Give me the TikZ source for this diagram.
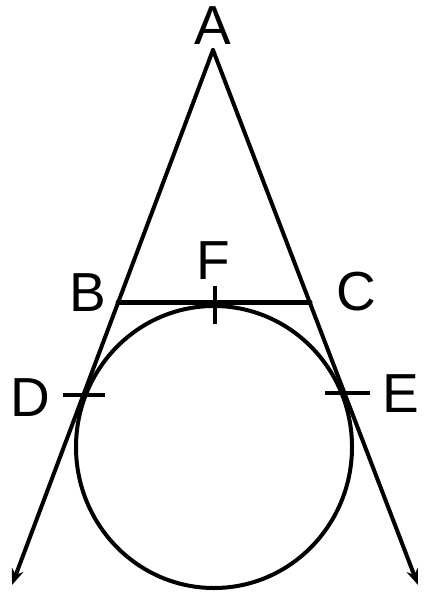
\documentclass[tikz,border=0pt]{standalone}
\usepackage{fontspec}
\setmainfont{Liberation Sans}
\usetikzlibrary{arrows.meta}

\begin{document}
\begin{tikzpicture}[
  x=1pt, y=-1pt,
  line width=4pt, line cap=round,
  ray/.style={-{Stealth[length=16pt, width=12pt]}},
  tick/.style={line width=4pt, line cap=butt},
  lbl/.style={font=\fontsize{55}{58}\selectfont, inner sep=0pt}
]
  \useasboundingbox (0,0) rectangle (426,593);

  % points
  \coordinate (A) at (213,50);
  \coordinate (B) at (118,302);
  \coordinate (C) at (310,302);
  \coordinate (D) at (84,395);
  \coordinate (E) at (346,393);
  \coordinate (F) at (215,304);
  \coordinate (O) at (214,447);
  \coordinate (leftEnd) at (12,585);
  \coordinate (rightEnd) at (418,585);

  % two rays from the apex
  \draw[ray] (A) -- (leftEnd);
  \draw[ray] (A) -- (rightEnd);

  % circle and chord
  \draw (O) ellipse[x radius=138, y radius=141];
  \draw[line width=5pt] (B) -- (C);

  % equal-tangent ticks
  \draw[tick] ([xshift=-21]D) -- ([xshift=21]D);
  \draw[tick] ([xshift=-21]E) -- ([xshift=24]E);
  \draw[tick] ([yshift=-20]F) -- ([yshift=18]F);

  % labels
  \node[lbl] (labA) at (213,26) {A};
  \node[lbl] (labB) at (88,293) {B};
  \node[lbl] (labC) at (356,292) {C};
  \node[lbl] (labD) at (30,398) {D};
  \node[lbl] (labE) at (401,394) {E};
  \node[lbl] (labF) at (213,261) {F};
\end{tikzpicture}
\end{document}
